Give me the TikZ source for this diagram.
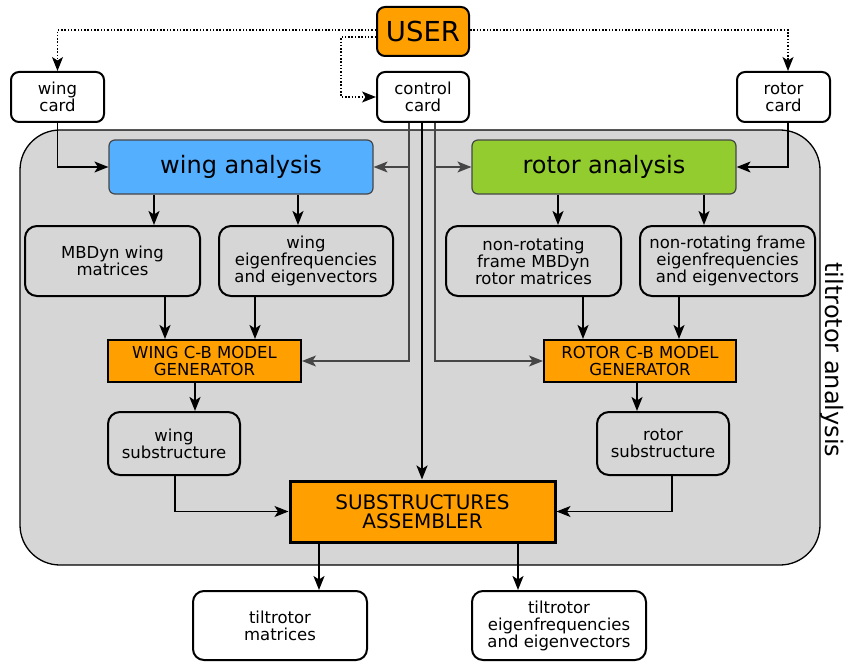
\documentclass[tikz,border=0pt]{standalone}
\usepackage{fontspec}
\setmainfont{DejaVu Sans}
\usetikzlibrary{arrows.meta}

\definecolor{cbOrange}{RGB}{255,159,0}
\definecolor{cbBlue}{RGB}{85,175,255}
\definecolor{cbGreen}{RGB}{146,204,46}
\definecolor{cbGray}{RGB}{214,214,214}
\definecolor{cbLine}{RGB}{70,70,70}

\tikzset{
  small/.style={font=\fontsize{16.5}{17}\selectfont},
  card/.style={draw,line width=2pt,rounded corners=8pt,fill=white,align=center,
    inner sep=0pt,minimum width=93pt,minimum height=50pt,small},
  result/.style={card,rounded corners=11pt,minimum width=174pt,minimum height=69pt},
  analysis/.style={draw=cbLine,line width=1.2pt,rounded corners=6pt,inner sep=0pt,
    minimum width=264pt,minimum height=54pt,font=\fontsize{24}{24}\selectfont},
  data/.style={draw,line width=2pt,rounded corners=12pt,fill=cbGray,align=center,
    inner sep=0pt,minimum width=175pt,minimum height=70pt,small},
  generator/.style={draw,line width=2pt,fill=cbOrange,align=center,inner sep=0pt,
    minimum width=193pt,minimum height=42pt,small},
  ctrl/.style={cbLine,line width=1.2pt},
  userlink/.style={line width=1.3pt,dash pattern=on 1.5pt off 1.8pt}
}

\begin{document}
\begin{tikzpicture}[x=1pt,y=-1pt,>={Stealth[length=14pt,width=11pt,inset=3.5pt]},line width=1.7pt]
  \useasboundingbox (0,0) rectangle (845,663);
  % tiltrotor analysis frame
  \draw[line width=1.3pt,fill=cbGray,rounded corners=40pt] (20,130) rectangle (820,565);
  \node[rotate=-90,anchor=base,inner sep=0pt,font=\fontsize{24}{24}\selectfont] (tiltlabel) at (825,360) {tiltrotor analysis};

  \node[card,fill=cbOrange,minimum width=92pt,minimum height=49pt,
    font=\fontsize{27.5}{28}\selectfont] (user) at (423,31.5) {USER};
  \node[card] (wingcard) at (57.5,97) {wing\\card};
  \node[card,minimum width=92pt] (ctrlcard) at (423,97) {control\\card};
  \node[card] (rotorcard) at (783.5,97) {rotor\\card};

  \node[analysis,fill=cbBlue] (wingan) at (241,167) {wing analysis};
  \node[analysis,fill=cbGreen] (rotoran) at (604,167) {rotor analysis};

  \node[data] (wingmat) at (112.5,261) {MBDyn wing\\matrices};
  \node[data,minimum width=174pt] (wingeig) at (306,261) {wing\\eigenfrequencies\\and eigenvectors};
  \node[data] (rotormat) at (533.5,261) {non-rotating\\frame MBDyn\\rotor matrices};
  \node[data] (rotoreig) at (727.5,261) {non-rotating frame\\eigenfrequencies\\and eigenvectors};

  \node[generator] (wingcb) at (204.5,361) {WING C-B MODEL\\GENERATOR};
  \node[generator,minimum width=192pt] (rotorcb) at (640,361) {ROTOR C-B MODEL\\GENERATOR};

  \node[data,minimum width=132pt,minimum height=63pt] (wingsub) at (174,443.5) {wing\\substructure};
  \node[data,minimum width=132pt,minimum height=63pt] (rotorsub) at (663,443.5) {rotor\\substructure};

  \node[generator,line width=3pt,minimum width=265pt,minimum height=61pt,
    font=\fontsize{20}{18.5}\selectfont] (asm) at (422.5,511.5) {SUBSTRUCTURES\\ASSEMBLER};

  \node[result] (tiltmat) at (280,625.5) {tiltrotor\\matrices};
  \node[result] (tilteig) at (559,625.5) {tiltrotor\\eigenfrequencies\\and eigenvectors};

  % user input
  \draw[userlink,->] ([yshift=1.5pt]user.west) -| (wingcard.north);
  \draw[userlink,->] ([yshift=1.5pt]user.east) -| ([xshift=4.5pt]rotorcard.north);
  \coordinate (ctrlturn) at (341,37);
  \draw[userlink,->] (user.west |- ctrlturn) -- (ctrlturn) |- (ctrlcard.west);

  % cards into the analyses
  \draw[line width=1.2pt,->] (wingcard.south) |- (wingan.west);
  \draw[line width=1.2pt,->] ([xshift=4.5pt]rotorcard.south) |- (rotoran.east);

  % control card
  \coordinate (ctrlL) at ([xshift=-14pt]ctrlcard.south);
  \coordinate (ctrlR) at ([xshift=12pt]ctrlcard.south);
  \draw[ctrl,->] (ctrlL) |- (wingcb.east);
  \draw[ctrl,->] (ctrlL |- wingan.east) -- (wingan.east);
  \draw[ctrl,->] (ctrlR) |- (rotorcb.west);
  \draw[ctrl,->] (ctrlR |- rotoran.west) -- (rotoran.west);
  \draw[line width=2.4pt,->] ([xshift=-1pt]ctrlcard.south) -- ([xshift=-0.5pt]asm.north);

  \path[->] ([xshift=-87pt]wingan.south) edge ([xshift=41.5pt]wingmat.north)
            ([xshift=57pt]wingan.south) edge ([xshift=-8pt]wingeig.north)
            ([xshift=-46pt]rotoran.south) edge ([xshift=24.5pt]rotormat.north)
            ([xshift=100pt]rotoran.south) edge ([xshift=-23.5pt]rotoreig.north);
  \path[->] ([xshift=52.5pt]wingmat.south) edge ([xshift=-39.5pt]wingcb.north)
            ([xshift=-51pt]wingeig.south) edge ([xshift=50.5pt]wingcb.north)
            ([xshift=49.5pt]rotormat.south) edge ([xshift=-57pt]rotorcb.north)
            ([xshift=-48.5pt]rotoreig.south) edge ([xshift=39pt]rotorcb.north);
  \path[->] ([xshift=-9.5pt]wingcb.south) edge ([xshift=21pt]wingsub.north)
            ([xshift=-3pt]rotorcb.south) edge ([xshift=-26pt]rotorsub.north);
  \draw[line width=1.2pt,->] ([xshift=1pt]wingsub.south) |- (asm.west);
  \draw[line width=1.2pt,->] ([xshift=9pt]rotorsub.south) |- (asm.east);
  \path[->] ([xshift=-103.5pt]asm.south) edge ([xshift=39pt]tiltmat.north)
            ([xshift=95.5pt]asm.south) edge ([xshift=-41pt]tilteig.north);
\end{tikzpicture}
\end{document}
